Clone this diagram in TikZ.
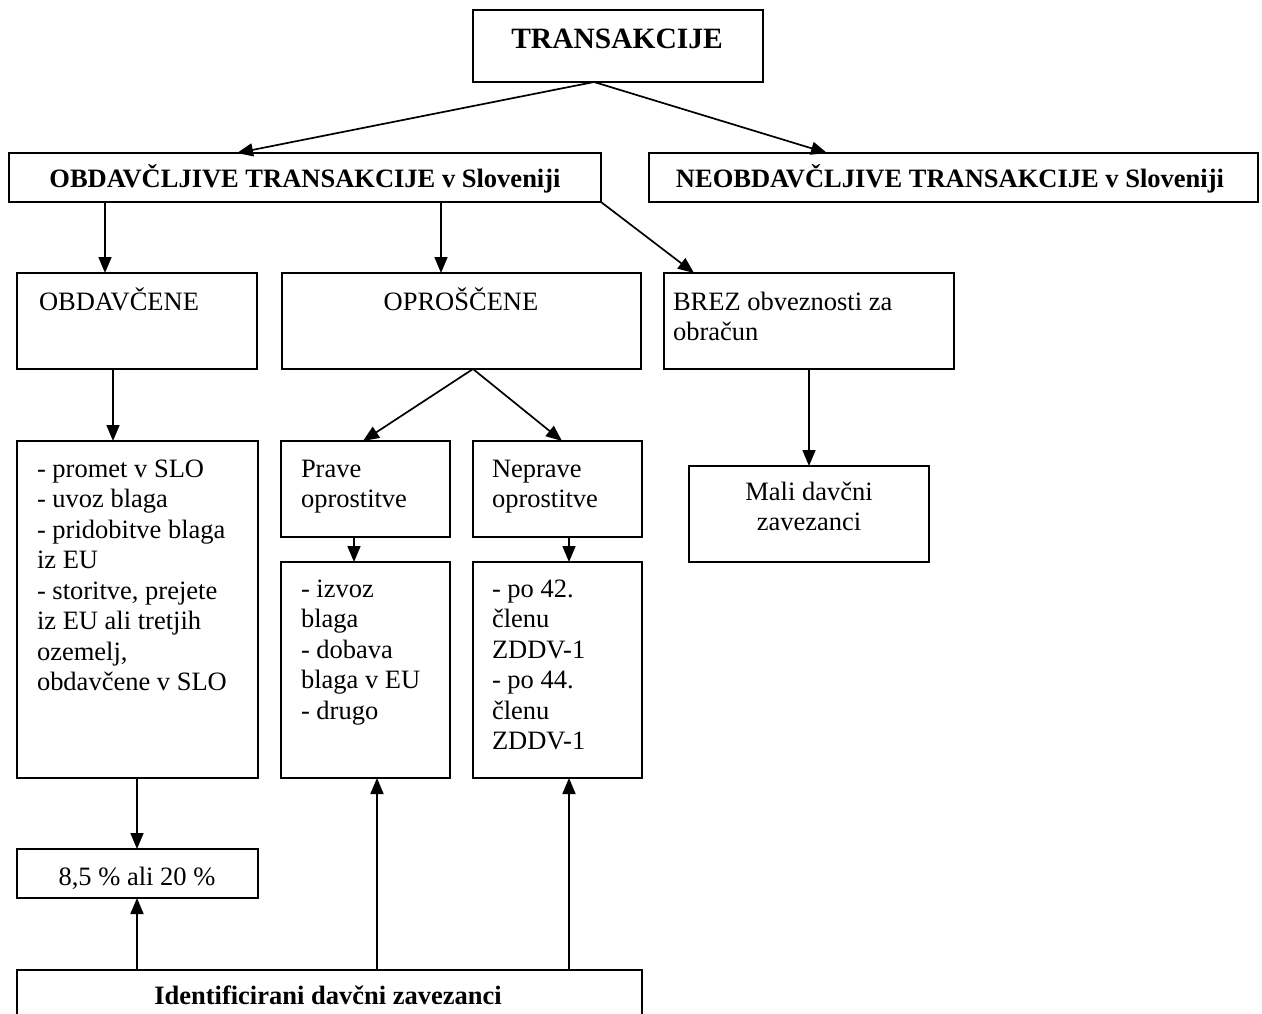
\documentclass[tikz,border=0pt]{standalone}
\usepackage{fontspec}
\setmainfont{Liberation Serif}
\usetikzlibrary{arrows.meta}
\newcommand{\fsz}{\fontsize{26.5pt}{30.5pt}\selectfont}
\newcommand{\fszbig}{\fontsize{29.5pt}{34pt}\selectfont}
\begin{document}
\begin{tikzpicture}[x=1pt,y=-1pt,
  box/.style={draw, line width=2.2pt, inner sep=0pt, outer sep=0pt, anchor=north west},
  arr/.style={line width=1.7pt, -{Triangle[length=16pt,width=13pt]}},
  txt/.style={inner sep=0pt, outer sep=0pt, font=\fsz},
  btxt/.style={inner sep=0pt, outer sep=0pt, font=\fsz\bfseries}]
\clip (0,0) rectangle (1262,1014);
\fill[white] (0,0) rectangle (1262,1014);
% boxes
\node[box, minimum width=290pt, minimum height=72pt] (T) at (473,10) {};
\node[box, minimum width=592pt, minimum height=49pt] (O) at (9,153) {};
\node[box, minimum width=609pt, minimum height=49pt] (N) at (649,153) {};
\node[box, minimum width=240pt, minimum height=96pt] (OB) at (17,273) {};
\node[box, minimum width=359pt, minimum height=96pt] (OP) at (282,273) {};
\node[box, minimum width=290pt, minimum height=96pt] (BR) at (664,273) {};
\node[box, minimum width=241pt, minimum height=337pt] (LS) at (17,441) {};
\node[box, minimum width=169pt, minimum height=96pt] (PR) at (281,441) {};
\node[box, minimum width=169pt, minimum height=96pt] (NP) at (473,441) {};
\node[box, minimum width=169pt, minimum height=216pt] (IZ) at (281,562) {};
\node[box, minimum width=169pt, minimum height=216pt] (PO) at (473,562) {};
\node[box, minimum width=241pt, minimum height=49pt] (PC) at (17,849) {};
\node[box, minimum width=625pt, minimum height=80pt] (ID) at (17,970) {};
\node[box, minimum width=240pt, minimum height=96pt] (MA) at (689,466) {};
% texts
\node[inner sep=0pt, outer sep=0pt, font=\fszbig\bfseries, anchor=base] (tT) at (617,49) {TRANSAKCIJE};
\node[btxt, anchor=base] (tO) at (305,188) {OBDAVČLJIVE TRANSAKCIJE v Sloveniji};
\node[btxt, anchor=base] (tN) at (950,188) {NEOBDAVČLJIVE TRANSAKCIJE v Sloveniji};
\node[txt, anchor=base west] (tOB) at (39,310) {OBDAVČENE};
\node[txt, anchor=base] (tOP) at (461,310) {OPROŠČENE};
\node[txt, anchor=base west] (tBR1) at (673,310) {BREZ obveznosti za};
\node[txt, anchor=base west] (tBR2) at (673,340.5) {obračun};
\node[txt, anchor=base west] (tL1) at (37,477) {- promet v SLO};
\node[txt, anchor=base west] (tL2) at (37,507.5) {- uvoz blaga};
\node[txt, anchor=base west] (tL3) at (37,538) {- pridobitve blaga};
\node[txt, anchor=base west] (tL4) at (37,568.5) {iz EU};
\node[txt, anchor=base west] (tL5) at (37,599) {- storitve, prejete};
\node[txt, anchor=base west] (tL6) at (37,629.5) {iz EU ali tretjih};
\node[txt, anchor=base west] (tL7) at (37,660) {ozemelj,};
\node[txt, anchor=base west] (tL8) at (37,690.5) {obdavčene v SLO};
\node[txt, anchor=base west] (tPR1) at (301,477) {Prave};
\node[txt, anchor=base west] (tPR2) at (301,507.5) {oprostitve};
\node[txt, anchor=base west] (tNP1) at (492,477) {Neprave};
\node[txt, anchor=base west] (tNP2) at (492,507.5) {oprostitve};
\node[txt, anchor=base west] (tIZ1) at (301,597) {- izvoz};
\node[txt, anchor=base west] (tIZ2) at (301,627.5) {blaga};
\node[txt, anchor=base west] (tIZ3) at (301,658) {- dobava};
\node[txt, anchor=base west] (tIZ4) at (301,688.5) {blaga v EU};
\node[txt, anchor=base west] (tIZ5) at (301,719) {- drugo};
\node[txt, anchor=base west] (tPO1) at (492,597) {- po 42.};
\node[txt, anchor=base west] (tPO2) at (492,627.5) {členu};
\node[txt, anchor=base west] (tPO3) at (492,658) {ZDDV-1};
\node[txt, anchor=base west] (tPO4) at (492,688.5) {- po 44.};
\node[txt, anchor=base west] (tPO5) at (492,719) {členu};
\node[txt, anchor=base west] (tPO6) at (492,749.5) {ZDDV-1};
\node[txt, anchor=base] (tPC) at (137,885) {8,5 \% ali 20 \%};
\node[btxt, anchor=base] (tID) at (328,1004) {Identificirani davčni zavezanci};
\node[txt, anchor=base] (tMA1) at (809,500) {Mali davčni};
\node[txt, anchor=base] (tMA2) at (809,530.5) {zavezanci};
% connectors
\draw[arr] ([xshift=121pt]T.south west) -- ([xshift=228pt]O.north west);
\draw[arr] ([xshift=121pt]T.south west) -- ([xshift=178pt]N.north west);
\draw[arr] ([xshift=96pt]O.south west) -- ([xshift=88pt]OB.north west);
\draw[arr] ([xshift=432pt]O.south west) -- ([xshift=159pt]OP.north west);
\draw[arr] (O.south east) -- ([xshift=30pt]BR.north west);
\draw[arr] ([xshift=96pt]OB.south west) -- ([xshift=96pt]LS.north west);
\draw[arr] ([xshift=191pt]OP.south west) -- ([xshift=82pt]PR.north west);
\draw[arr] ([xshift=191pt]OP.south west) -- ([xshift=89pt]NP.north west);
\draw[arr] ([xshift=73pt]PR.south west) -- ([xshift=73pt]IZ.north west);
\draw[arr] ([xshift=96pt]NP.south west) -- ([xshift=96pt]PO.north west);
\draw[arr] ([xshift=120pt]LS.south west) -- ([xshift=120pt]PC.north west);
\draw[arr] ([xshift=120pt]ID.north west) -- ([xshift=120pt]PC.south west);
\draw[arr] ([xshift=360pt]ID.north west) -- ([xshift=96pt]IZ.south west);
\draw[arr] ([xshift=552pt]ID.north west) -- ([xshift=96pt]PO.south west);
\draw[arr] (BR.south) -- (MA.north);
\end{tikzpicture}
\end{document}
